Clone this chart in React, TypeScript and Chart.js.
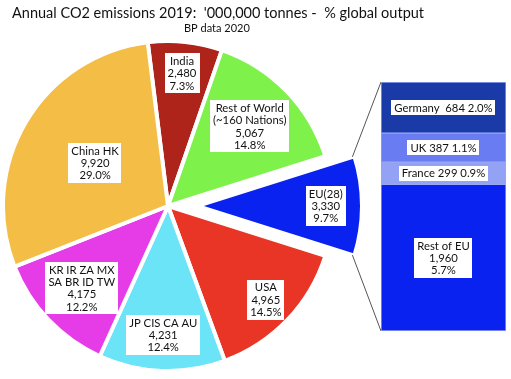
import React, { useEffect, useRef } from 'react';
import { Chart, registerables } from 'chart.js';

Chart.register(...registerables);

const TITLE = "Annual CO2 emissions 2019:  '000,000 tonnes -  % global output";
const SUBTITLE = 'BP data 2020';

const regionNames = ['India', 'Rest of World', 'EU(28)', 'USA', 'JP CIS CA AU', 'KR IR ZA MX SA BR ID TW', 'China HK'];
const regionLabelLines = [
  ['India'],
  ['Rest of World', '(~160 Nations)'],
  ['EU(28)'],
  ['USA'],
  ['JP CIS CA AU'],
  ['KR IR ZA MX', 'SA BR ID TW'],
  ['China HK'],
];
const regionEmissions = [2480, 5067, 3330, 4965, 4231, 4175, 9920];
const regionShares = [7.3, 14.8, 9.7, 14.5, 12.4, 12.2, 29.0];
const regionColors = ['#ae231a', '#7ef24a', '#0a22f0', '#e83526', '#6ce4f8', '#e63ce8', '#f4bd45'];
const regionLabelRadius = [0.82, 0.7, 0.79, 0.83, 0.79, 0.73, 0.52];

const euNames = ['Germany', 'UK', 'France', 'Rest of EU'];
const euEmissions = [684, 387, 299, 1960];
const euShares = [2.0, 1.1, 0.9, 5.7];
const euColors = ['#1a3aa8', '#6a7cf2', '#94a2f6', '#0a22f0'];
const euMultiline = [false, false, false, true];

const EU_INDEX = 2;
const EXPLODE = 29;
const BORDER = 4;
const LABEL_FONT = '11.3px Lato';
const FONT_FAMILY = 'Lato';

const BAR_LEFT = 381;
const BAR_TOP = 82;
const BAR_W = 125;
const BAR_H = 249;

const fmt = (v: number) => v.toLocaleString('en-US');
const pct = (v: number) => v.toFixed(1) + '%';

function drawBox(ctx: CanvasRenderingContext2D, lines: string[], cx: number, cy: number) {
  const lineH = 12.3;
  const padX = 3;
  const padY = 1.5;
  ctx.save();
  ctx.font = LABEL_FONT;
  const w = Math.max(...lines.map((l) => ctx.measureText(l).width)) + padX * 2;
  const h = lines.length * lineH + padY * 2;
  ctx.fillStyle = '#ffffff';
  ctx.fillRect(Math.round(cx - w / 2), Math.round(cy - h / 2), Math.round(w), Math.round(h));
  ctx.fillStyle = '#111111';
  ctx.textAlign = 'center';
  ctx.textBaseline = 'middle';
  lines.forEach((l, i) => {
    ctx.fillText(l, cx, cy - h / 2 + padY + lineH * (i + 0.5) + 0.5);
  });
  ctx.restore();
}

export default function App() {
  const pieRef = useRef<HTMLCanvasElement | null>(null);
  const barRef = useRef<HTMLCanvasElement | null>(null);

  useEffect(() => {
    if (!pieRef.current || !barRef.current) return;
    const euTotal = euEmissions.reduce((a, b) => a + b, 0);

    const barLabels = {
      id: 'barLabels',
      afterDatasetsDraw(chart: any) {
        const ctx = chart.ctx;
        chart.data.datasets.forEach((ds: any, di: number) => {
          const el = chart.getDatasetMeta(di).data[0];
          const idx = ds.memberIndex;
          const lines = euMultiline[idx]
            ? [euNames[idx], fmt(euEmissions[idx]), pct(euShares[idx])]
            : [euNames[idx] + (idx === 0 ? '  ' : ' ') + fmt(euEmissions[idx]) + ' ' + pct(euShares[idx])];
          drawBox(ctx, lines, el.x, (el.y + el.base) / 2);
        });
      },
    };

    const order = [3, 2, 1, 0];
    const barChart = new Chart(barRef.current, {
      type: 'bar',
      data: {
        labels: ['EU(28)'],
        datasets: order.map((i) => ({
          label: euNames[i],
          data: [euEmissions[i]],
          backgroundColor: euColors[i],
          borderColor: '#9aa6f2',
          borderWidth: 1,
          borderSkipped: false,
          barPercentage: 1,
          categoryPercentage: 1,
          memberIndex: i,
        })) as any,
      },
      options: {
        animation: false,
        responsive: false,
        events: [],
        layout: { padding: 0 },
        plugins: { legend: { display: false }, tooltip: { enabled: false } },
        scales: {
          x: { stacked: true, display: false },
          y: { stacked: true, display: false, min: 0, max: euTotal },
        },
      },
      plugins: [barLabels],
    });

    const piePlugin = {
      id: 'pieExtras',
      afterDatasetUpdate(chart: any, args: any) {
        const arc = args.meta.data[EU_INDEX];
        if (!arc) return;
        const mid = (arc.startAngle + arc.endAngle) / 2;
        arc.x += Math.cos(mid) * EXPLODE;
        arc.y += Math.sin(mid) * EXPLODE;
      },
      afterDatasetsDraw(chart: any) {
        const ctx = chart.ctx;
        const meta = chart.getDatasetMeta(0);
        meta.data.forEach((arc: any, i: number) => {
          const mid = (arc.startAngle + arc.endAngle) / 2;
          const r = (arc.outerRadius - BORDER / 2) * regionLabelRadius[i];
          const lines = [...regionLabelLines[i], fmt(regionEmissions[i]), pct(regionShares[i])];
          drawBox(ctx, lines, arc.x + Math.cos(mid) * r, arc.y + Math.sin(mid) * r);
        });

        // connector lines from the exploded EU slice to the breakdown bar
        const eu = meta.data[EU_INDEX];
        const rv = eu.outerRadius - BORDER / 2;
        const n = barChart.data.datasets.length;
        const topEl: any = barChart.getDatasetMeta(n - 1).data[0];
        const botEl: any = barChart.getDatasetMeta(0).data[0];
        const bx = BAR_LEFT + topEl.x - topEl.width / 2;
        const by1 = BAR_TOP + topEl.y;
        const by2 = BAR_TOP + botEl.base;
        ctx.save();
        ctx.strokeStyle = '#555555';
        ctx.lineWidth = 1;
        ctx.beginPath();
        ctx.moveTo(eu.x + Math.cos(eu.startAngle) * rv, eu.y + Math.sin(eu.startAngle) * rv);
        ctx.lineTo(bx, by1);
        ctx.moveTo(eu.x + Math.cos(eu.endAngle) * rv, eu.y + Math.sin(eu.endAngle) * rv);
        ctx.lineTo(bx, by2);
        ctx.stroke();
        ctx.restore();

        // titles
        ctx.save();
        ctx.fillStyle = '#111111';
        ctx.textAlign = 'left';
        ctx.textBaseline = 'alphabetic';
        ctx.font = `14.5px ${FONT_FAMILY}`;
        ctx.fillText(TITLE, 12, 18);
        ctx.font = `11px ${FONT_FAMILY}`;
        ctx.fillText(SUBTITLE, 184, 32);
        ctx.restore();
      },
    };

    const pieChart = new Chart(pieRef.current, {
      type: 'pie',
      data: {
        labels: regionNames,
        datasets: [
          {
            data: regionEmissions,
            backgroundColor: regionColors,
            borderColor: '#ffffff',
            borderWidth: BORDER,
          },
        ],
      },
      options: {
        animation: false,
        responsive: false,
        events: [],
        rotation: -7.06,
        radius: 165,
        layout: { padding: { left: 0, right: 175, top: 33, bottom: 0 } },
        plugins: { legend: { display: false }, tooltip: { enabled: false } },
      },
      plugins: [piePlugin],
    });

    return () => {
      pieChart.destroy();
      barChart.destroy();
    };
  }, []);

  return (
    <div style={{ position: 'fixed', left: 0, top: 0, width: 511, height: 379, background: '#ffffff' }}>
      <canvas ref={pieRef} width={511} height={379} style={{ position: 'absolute', left: 0, top: 0, width: 511, height: 379 }} />
      <canvas
        ref={barRef}
        width={BAR_W}
        height={BAR_H}
        style={{ position: 'absolute', left: BAR_LEFT, top: BAR_TOP, width: BAR_W, height: BAR_H }}
      />
    </div>
  );
}
